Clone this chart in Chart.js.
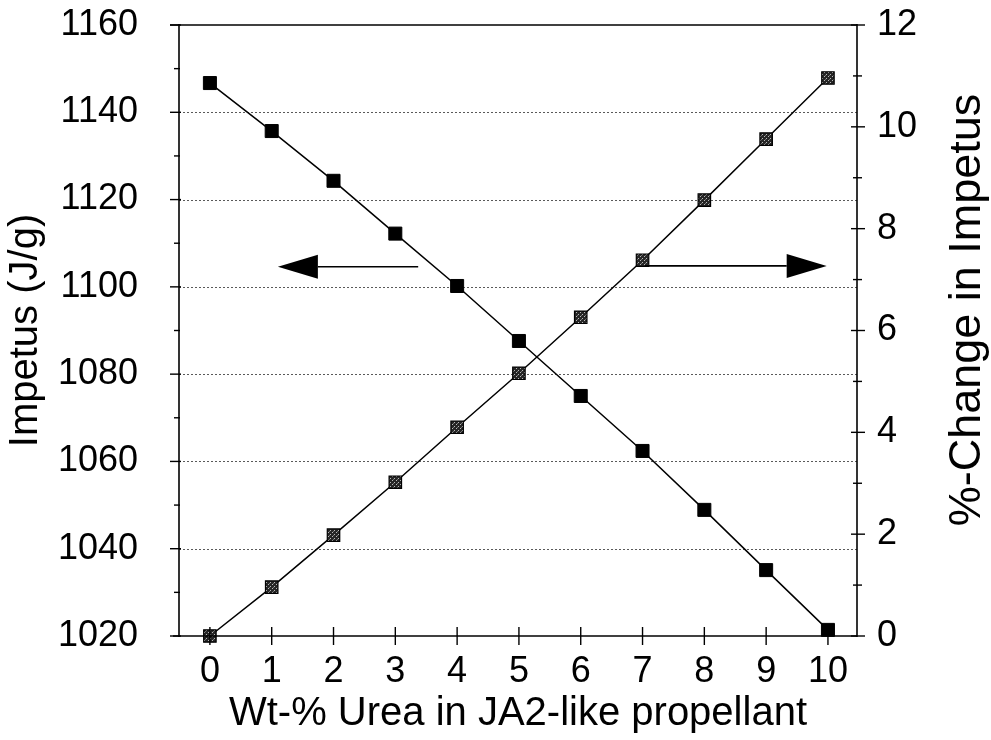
<!DOCTYPE html>
<html>
<head>
<meta charset="utf-8">
<script src="https://cdn.jsdelivr.net/npm/chart.js@4"></script>
<style>
  html, body { margin: 0; padding: 0; background: #fff; }
  #wrap { width: 991px; height: 740px; position: relative; }
</style>
</head>
<body>
<div id="wrap"><canvas id="impetusChart"></canvas></div>
<script>
// --- Data ---
const wtUrea = [0, 1, 2, 3, 4, 5, 6, 7, 8, 9, 10];
const impetus = [1146.7, 1135.7, 1124.3, 1112.2, 1100.2, 1087.6, 1075.0, 1062.4, 1048.9, 1035.1, 1021.4];
const pctChange = [0, 0.96, 1.98, 3.02, 4.10, 5.16, 6.26, 7.38, 8.56, 9.76, 10.96];

const xTicks = [0, 1, 2, 3, 4, 5, 6, 7, 8, 9, 10];
const leftTicks = [1020, 1040, 1060, 1080, 1100, 1120, 1140, 1160];
const leftMinor = [1030, 1050, 1070, 1090, 1110, 1130, 1150];
const rightTicks = [0, 2, 4, 6, 8, 10, 12];
const rightMinor = [1, 3, 5, 7, 9, 11];

// arrows pointing at the axis each curve belongs to (x in wt-%, y in J/g)
const arrows = [
    { from: 3.37, to: 1.1, at: 1104.6 },
    { from: 7.04, to: 9.98, at: 1104.8 }
];

const FONT = "'Liberation Sans', Arial, sans-serif";

function hatchPattern(ctx) {
    const c = document.createElement('canvas');
    c.width = 4; c.height = 4;
    const g = c.getContext('2d');
    g.fillStyle = '#262626';
    g.fillRect(0, 0, 4, 4);
    g.fillStyle = '#b8b8b8';
    g.fillRect(0, 0, 1, 1);
    g.fillRect(2, 2, 1, 1);
    g.fillStyle = '#707070';
    g.fillRect(1, 3, 1, 1);
    return ctx.createPattern(c, 'repeat');
}

function seg(ctx, x1, y1, x2, y2) {
    ctx.beginPath();
    ctx.moveTo(x1, y1);
    ctx.lineTo(x2, y2);
    ctx.stroke();
}

const plainLabel = v => String(v);
const noPad = s => { s.paddingTop = 0; s.paddingBottom = 0; };

// --- Axes, ticks, grid, arrows ---
const axisDecor = {
    id: 'axisDecor',
    beforeDatasetsDraw(chart) {
        const { ctx, chartArea: a, scales: { y } } = chart;
        ctx.save();
        ctx.strokeStyle = '#5a5a5a';
        ctx.lineWidth = 1;
        ctx.setLineDash([2, 2]);
        leftTicks.slice(1, -1).forEach(v => {
            const py = Math.round(y.getPixelForValue(v)) + 0.5;
            seg(ctx, a.left, py, a.right, py);
        });
        ctx.restore();
    },
    afterDatasetsDraw(chart) {
        const { ctx, chartArea: a, scales: { x, y, y1 } } = chart;
        ctx.save();
        ctx.strokeStyle = '#000';
        ctx.lineWidth = 1.6;
        // frame
        seg(ctx, a.left, a.top - 1, a.left, a.bottom + 1);
        seg(ctx, a.right, a.top - 1, a.right, a.bottom + 1);
        seg(ctx, a.left - 9, a.top, a.right, a.top);
        seg(ctx, a.left - 6, a.bottom, a.right, a.bottom);

        ctx.lineWidth = 1.4;
        leftTicks.forEach(v => { const p = y.getPixelForValue(v); seg(ctx, a.left - 9, p, a.left + 2, p); });
        leftMinor.forEach(v => { const p = y.getPixelForValue(v); seg(ctx, a.left - 5, p, a.left + 1, p); });
        rightTicks.forEach(v => { const p = y1.getPixelForValue(v); seg(ctx, a.right - 6, p, a.right + 8, p); });
        rightMinor.forEach(v => { const p = y1.getPixelForValue(v); seg(ctx, a.right - 4, p, a.right + 5, p); });
        xTicks.forEach(v => { const p = x.getPixelForValue(v); seg(ctx, p, a.bottom - 9, p, a.bottom + 9); });

        // arrows
        ctx.lineWidth = 1.6;
        ctx.fillStyle = '#000';
        arrows.forEach(ar => {
            const x0 = x.getPixelForValue(ar.from);
            const x1 = x.getPixelForValue(ar.to);
            const py = y.getPixelForValue(ar.at);
            const dir = Math.sign(x1 - x0);
            const base = x1 - dir * 40;
            seg(ctx, x0, py, base, py);
            ctx.beginPath();
            ctx.moveTo(x1, py);
            ctx.lineTo(base, py - 12);
            ctx.lineTo(base, py + 12);
            ctx.closePath();
            ctx.fill();
        });

        // right axis title reads bottom-to-top
        ctx.translate(968, 310);
        ctx.rotate(-Math.PI / 2);
        ctx.font = '45px ' + FONT;
        ctx.textAlign = 'center';
        ctx.textBaseline = 'middle';
        ctx.fillText('%-Change in Impetus', 0, 0);
        ctx.restore();
    }
};

const canvas = document.getElementById('impetusChart');
const ctx = canvas.getContext('2d');

new Chart(ctx, {
    type: 'line',
    data: {
        datasets: [
            {
                label: 'Impetus',
                data: wtUrea.map((w, i) => ({ x: w, y: impetus[i] })),
                yAxisID: 'y',
                borderColor: '#000',
                borderWidth: 1.5,
                pointStyle: 'rect',
                pointRadius: 9.2,
                pointBackgroundColor: '#000',
                pointBorderColor: '#000',
                pointBorderWidth: 1,
                clip: false
            },
            {
                label: '%-Change',
                data: wtUrea.map((w, i) => ({ x: w, y: pctChange[i] })),
                yAxisID: 'y1',
                borderColor: '#000',
                borderWidth: 1.5,
                pointStyle: 'rect',
                pointRadius: 8.8,
                pointBackgroundColor: hatchPattern(ctx),
                pointBorderColor: '#000',
                pointBorderWidth: 1.2,
                clip: false
            }
        ]
    },
    options: {
        responsive: true,
        maintainAspectRatio: false,
        animation: false,
        layout: { padding: { top: 25, left: 0, right: 0, bottom: 0 } },
        plugins: { legend: { display: false }, tooltip: { enabled: false } },
        scales: {
            x: {
                type: 'linear',
                position: 'bottom',
                min: -0.5,
                max: 10.47,
                afterBuildTicks: s => { s.ticks = xTicks.map(v => ({ value: v })); },
                afterFit: s => { s.height = 104; s.paddingLeft = 0; s.paddingRight = 0; },
                grid: { display: false, drawTicks: false },
                border: { display: false },
                ticks: { color: '#000', font: { family: FONT, size: 36 }, padding: 14, maxRotation: 0, autoSkip: false, callback: plainLabel },
                title: {
                    display: true,
                    text: 'Wt-% Urea in JA2-like propellant',
                    color: '#000',
                    font: { family: FONT, size: 40 },
                    padding: { top: 0, bottom: 2 }
                }
            },
            y: {
                type: 'linear',
                position: 'left',
                min: 1020,
                max: 1160,
                afterBuildTicks: s => { s.ticks = leftTicks.map(v => ({ value: v })); },
                afterFit: s => { s.width = 179; noPad(s); },
                grid: { display: false, drawTicks: false },
                border: { display: false },
                ticks: { color: '#000', font: { family: FONT, size: 36 }, padding: 41, callback: plainLabel },
                title: {
                    display: true,
                    text: 'Impetus (J/g)',
                    color: '#000',
                    font: { family: FONT, size: 40 },
                    padding: { top: 2, bottom: 0 }
                }
            },
            y1: {
                type: 'linear',
                position: 'right',
                min: 0,
                max: 12,
                afterBuildTicks: s => { s.ticks = rightTicks.map(v => ({ value: v })); },
                afterFit: s => { s.width = 134; noPad(s); },
                grid: { display: false, drawTicks: false },
                border: { display: false },
                ticks: { color: '#000', font: { family: FONT, size: 36 }, padding: 20, callback: plainLabel }
            }
        }
    },
    plugins: [axisDecor]
});
</script>
</body>
</html>
